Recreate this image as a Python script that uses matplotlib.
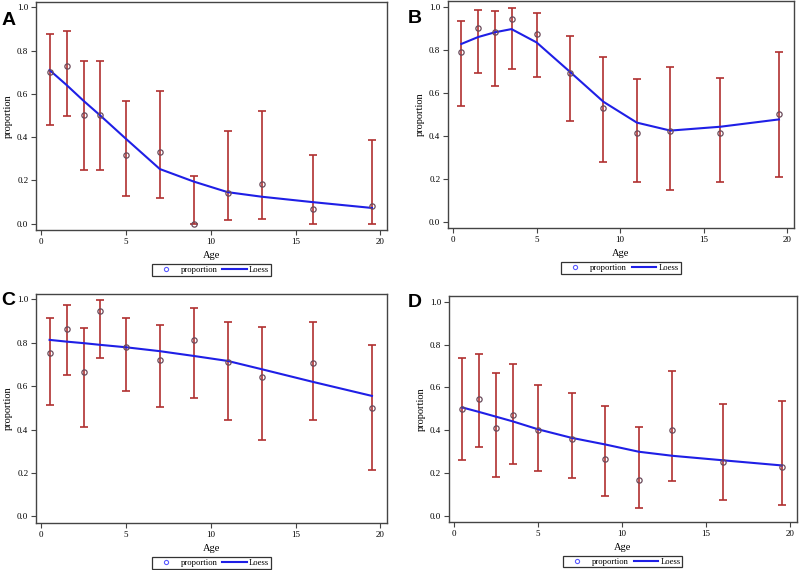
import matplotlib
matplotlib.use("Agg")
import matplotlib.pyplot as plt
from matplotlib.lines import Line2D

age = [0.5, 1.5, 2.5, 3.5, 5, 7, 9, 11, 13, 16, 19.5]

# panel A
prop_a = [0.70, 0.727, 0.50, 0.50, 0.316, 0.333, 0.0, 0.143, 0.182, 0.067, 0.083]
upper_a = [0.879, 0.892, 0.751, 0.751, 0.566, 0.615, 0.218, 0.429, 0.52, 0.319, 0.385]
lower_a = [0.458, 0.496, 0.246, 0.246, 0.125, 0.118, 0.0, 0.017, 0.023, 0.0, 0.0]
loess_a = [0.71, 0.641, 0.568, 0.499, 0.392, 0.252, 0.194, 0.145, 0.124, 0.099, 0.072]

# panel B
prop_b = [0.789, 0.90, 0.88, 0.94, 0.87, 0.69, 0.53, 0.41, 0.42, 0.41, 0.50]
upper_b = [0.934, 0.983, 0.98, 0.994, 0.968, 0.861, 0.764, 0.665, 0.718, 0.667, 0.787]
lower_b = [0.539, 0.691, 0.63, 0.708, 0.673, 0.466, 0.276, 0.182, 0.148, 0.182, 0.208]
loess_b = [0.826, 0.858, 0.88, 0.895, 0.833, 0.696, 0.557, 0.46, 0.423, 0.441, 0.475]

# panel C
prop_c = [0.752, 0.863, 0.666, 0.945, 0.779, 0.719, 0.811, 0.709, 0.643, 0.707, 0.50]
upper_c = [0.913, 0.972, 0.867, 0.998, 0.913, 0.88, 0.959, 0.896, 0.874, 0.896, 0.79]
lower_c = [0.511, 0.652, 0.411, 0.729, 0.578, 0.506, 0.546, 0.442, 0.351, 0.442, 0.212]
loess_c = [0.813, 0.805, 0.798, 0.79, 0.779, 0.761, 0.739, 0.716, 0.678, 0.62, 0.555]

# panel D
prop_d = [0.498, 0.545, 0.412, 0.472, 0.401, 0.359, 0.263, 0.166, 0.399, 0.249, 0.229]
upper_d = [0.737, 0.754, 0.669, 0.711, 0.61, 0.574, 0.511, 0.416, 0.678, 0.523, 0.537]
lower_d = [0.259, 0.32, 0.183, 0.243, 0.211, 0.178, 0.09, 0.036, 0.163, 0.073, 0.05]
loess_d = [0.506, 0.485, 0.463, 0.441, 0.404, 0.364, 0.333, 0.299, 0.28, 0.259, 0.235]

panel_labels = ["A", "B", "C", "D"]
x_ticks = [0, 5, 10, 15, 20]
y_ticks = [0.0, 0.2, 0.4, 0.6, 0.8, 1.0]

SERIF = "Liberation Serif"
BAR_COLOR = "#b03030"
LINE_COLOR = "#1f1fe6"
MARKER_EDGE = "#6a4a5a"


def draw_panel(ax, prop, lower, upper, loess):
    yerr = [[p - lo for p, lo in zip(prop, lower)], [hi - p for p, hi in zip(prop, upper)]]
    ax.errorbar(age, prop, yerr=yerr, fmt="none", ecolor=BAR_COLOR, elinewidth=1.2,
                capsize=3.2, capthick=1.2, zorder=2)
    ax.plot(age, loess, color=LINE_COLOR, lw=1.5, zorder=3)
    ax.plot(age, prop, "o", ms=3.8, mfc="none", mec=MARKER_EDGE, mew=0.9, zorder=4)

    ax.set_xlim(-0.3, 20.4)
    ax.set_ylim(-0.03, 1.025)
    ax.set_xticks(x_ticks)
    ax.set_yticks(y_ticks)
    ax.set_yticklabels([f"{t:.1f}" for t in y_ticks])
    ax.tick_params(length=3.5, width=0.8, color="#444444", labelsize=6.5, pad=2)
    for lab in ax.get_xticklabels() + ax.get_yticklabels():
        lab.set_family(SERIF)
    for sp in ax.spines.values():
        sp.set_color("#444444")
        sp.set_linewidth(1.0)
    ax.set_xlabel("Age", family=SERIF, fontsize=7.5, labelpad=4)
    ax.set_ylabel("proportion", family=SERIF, fontsize=7.5, labelpad=3)

    handles = [
        Line2D([], [], ls="none", marker="o", ms=3, mfc="none", mec="#5a5aff", mew=0.8),
        Line2D([], [], color=LINE_COLOR, lw=1.5),
    ]
    leg = ax.legend(handles, ["proportion", "Loess"], loc="upper center",
                    bbox_to_anchor=(0.5, -0.15), ncol=2, frameon=True, fancybox=False,
                    prop={"family": SERIF, "size": 6.2}, handlelength=2.8, handletextpad=0.3,
                    columnspacing=0.6, borderpad=0.2, borderaxespad=0)
    leg.get_frame().set_edgecolor("black")
    leg.get_frame().set_linewidth(0.9)


fig = plt.figure(figsize=(8, 5.7), dpi=100)

positions = [
    [0.045, 0.5965, 0.439, 0.40],
    [0.56, 0.60, 0.4325, 0.398],
    [0.045, 0.0825, 0.439, 0.402],
    [0.561, 0.084, 0.435, 0.396],
]
data = [
    (prop_a, lower_a, upper_a, loess_a),
    (prop_b, lower_b, upper_b, loess_b),
    (prop_c, lower_c, upper_c, loess_c),
    (prop_d, lower_d, upper_d, loess_d),
]
letter_pos = [(0.002, 0.979), (0.51, 0.983), (0.002, 0.488), (0.51, 0.485)]

for pos, d, letter, lp in zip(positions, data, panel_labels, letter_pos):
    ax = fig.add_axes(pos)
    draw_panel(ax, *d)
    fig.text(lp[0], lp[1], letter, fontsize=14, fontweight="bold",
             family="Liberation Sans", va="top", ha="left")

fig.savefig("out.png", dpi=100)
